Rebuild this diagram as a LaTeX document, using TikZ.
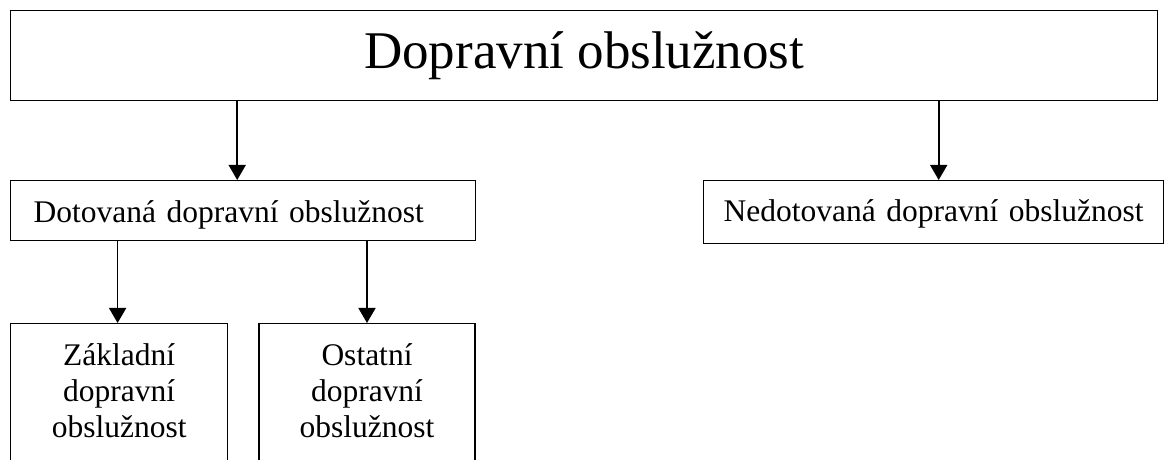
\documentclass[tikz,border=0pt]{standalone}
\usepackage{fontspec}
\setmainfont{Liberation Serif}
\usetikzlibrary{arrows.meta,positioning}
\tikzset{
  line/.style={-{Triangle[width=8.5pt,length=7.5pt]}, line width=0.8pt},
  box/.style={draw, line width=0.7pt, inner xsep=0pt, inner ysep=0pt},
  titlebox/.style={box, minimum width=573.5pt, text height=29pt, text depth=16pt,
    font=\fontsize{26.5pt}{32pt}\selectfont},
  widebox/.style={box, inner xsep=11.5pt, align=left,
    font=\fontsize{15.75pt}{18pt}\selectfont},
  tallbox/.style={box, text width=108.5pt, align=center, text height=21pt, text depth=52.5pt,
    font=\fontsize{15.75pt}{18pt}\selectfont}
}

\begin{document}
\begin{tikzpicture}[x=0.5pt, y=-0.5pt]
  \path[use as bounding box, clip] (0,0) rectangle (1164,460);
  \node[titlebox, anchor=north west] (dos) at (10,10) {Dopravní obslužnost};
  \node[widebox, anchor=north west, text width=209.5pt, text height=21pt, text depth=9pt] (dot) at (10,180) {Dotovaná dopravní obslužnost};
  \node[widebox, anchor=north west, inner xsep=10pt, text width=210pt, text height=20.5pt, text depth=11pt] (nedot) at (703,180) {Nedotovaná dopravní obslužnost};
  \node[tallbox, anchor=north west] (zakl) at (10,323) {Základní\\dopravní\\obslužnost};
  \node[tallbox, anchor=north west, text width=108pt] (ost) at (258.3,323) {Ostatní\\dopravní\\obslužnost};

  \draw[line] ([xshift=-3pt]dot.north |- dos.south) -- ([xshift=-3pt]dot.north);
  \draw[line] ([xshift=2.5pt]nedot.north |- dos.south) -- ([xshift=2.5pt]nedot.north);
  \draw[line] ([xshift=-0.8pt]zakl.north |- dot.south) -- ([xshift=-0.8pt]zakl.north);
  \draw[line] (ost.north |- dot.south) -- (ost.north);
\end{tikzpicture}
\end{document}
